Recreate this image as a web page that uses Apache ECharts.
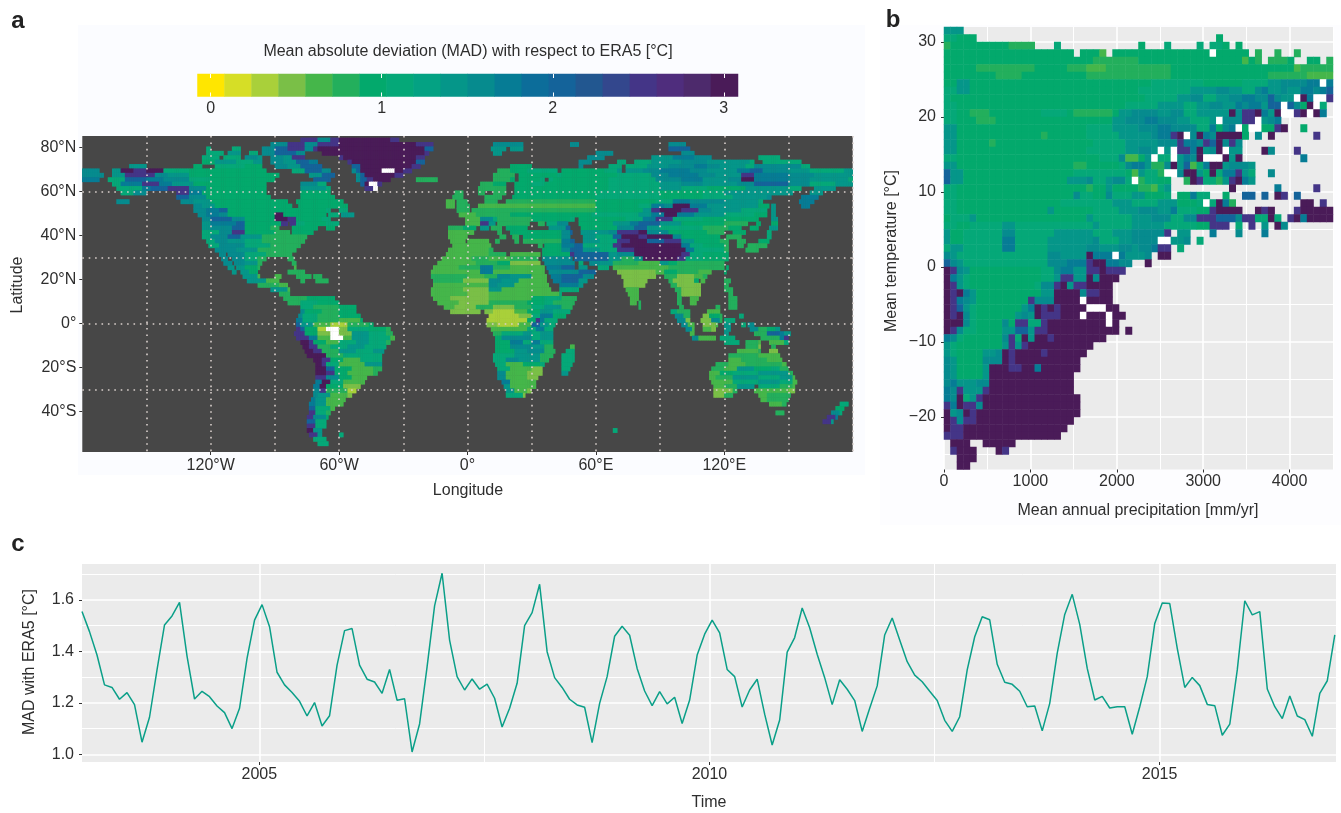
<!DOCTYPE html>
<html><head><meta charset="utf-8">
<script src="https://cdn.jsdelivr.net/npm/echarts@6/dist/echarts.min.js"></script>
<style>html,body{margin:0;padding:0;background:#fff}#c{width:1341px;height:813px}</style></head>
<body><div id="c"></div>
<script>
// ---- colour legend (binned MAD scale) ----
const legendPalette=['#ffe600','#d6de26','#a9d03a','#7abf47','#45b64a','#23af5c','#03a96c','#05a878','#04a283','#059689','#068b8e','#067c95','#0c6d9a','#14639a','#225790','#33478d','#443587','#4f2d7d','#4d2a6c','#4a1b58'];
const legendMin=-0.077, legendMax=3.083;
const legendTicks=[0,1,2,3];
// letter -> MAD value used by the two raster tables below
const madLevels={a:0.3,b:0.5,c:0.65,d:0.8,e:0.95,f:1.15,g:1.35,h:1.55,i:1.8,j:2.1,k:2.5,p:3,w:9};

// ---- panel a: land raster, row = [south edge latitude, "lonStart+level ..." spans] ----
const mapRows=[
[82,"-78k -70h -64k -60p -36k -32."],
[80,"-92h -84k -76h -70k -60p -24k -16. 12h 26. 48h 52. 94h 102."],
[78,"-122f -120. -110f -106. -96h -90j -84k -76h -72k -70p -20j -16. 11g 18. 20g 26. 94j 104."],
[76,"-122f -114. -112g -106. -102f -98. -96h -90j -80h -76. -68p -20k -18. 12g 16. 60h 68. 100h 106."],
[74,"-124f -116. -114f -106. -104h -98g -96. -92h -86g -82k -76. -60k -58p -24k -20. 56h 64. 86g 96i 106h 114. 136f 146."],
[72,"-124e -118g -108f -100g -96. -92h -86g -80j -74i -70. -56k -54p -24j -20. 52h 58. 70f 74. 78f 86g 100h 112g 132f 134. 138f 156."],
[70,"-158g -150. -128e -124. -118f -104e -96. -90h -84g -78j -68. -54j -50p -26k -22. 20e 30. 52h 54. 66f 72. 74f 84g 94h 106i 112h 118g 130f 134h 156f 160."],
[68,"-180h -172. -166g -162p -156k -150p -142f -130e -94. -82f -76j -68h -64. -54h -52j -50p -40w -34p -30k -26. 14d 20e 28f 42. 44e 64f 70g 72. 74g 82h 90i 104h 112g 126i 132j 138h 150g 160f 176g 180."],
[66,"-180h -170. -166g -160k -146h -140g -130e -88. -74g -68j -62. -52h -50j -48p -34k -30. 12d 22. 24e 42f 44e 70f 86h 94i 108h 116g 128k 134i 150h 162g 180."],
[64,"-180i -172. -168f -160j -150i -142h -130f -120e -90. -72j -64. -52h -50j -47k -44p -36. -24d -14. 12d 20e 22. 24e 34f 36. 38f 40e 66f 88h 100i 110g 122h 128p 134i 150h 160g 178f 180."],
[62,"-166f -162i -152k -144i -138g -128e -94. -78h -70f -66. -50j -48p -46w -42k -40. 6d 12e 18. 22e 30f 36e 66f 90g 100h 110g 126h 134j 150h 160f 172g 180."],
[60,"-164f -152i -148j -140k -130h -122e -94. -78g -66f -64. -48k -44w -42. 5d 18. 22e 66f 90g 100f 112e 130g 150f 156. 162g 172."],
[58,"-162f -156h -150. -136k -130i -124e -94. -78e -64. -6d -2. 5d 8. 12d 18. 22e 62f 90e 110f 120g 140g 152. 160g 166."],
[56,"-136j -130h -122e -92. -78e -62. -7d -2. 8d 12d 16. 21e 60f 90e 110f 124g 140h 142. 156i 164."],
[54,"-164h -158. -134h -128g -120e -84. -80e -58. -10c -6. -5d 0. 8d 10. 10d 14. 18d 20d 60e 88f 96i 104h 120g 136f 138. 155i 162."],
[52,"-128h -124g -118e -82. -79e -56. -10c -6. -5d 1. 5c 60e 80f 86i 92h 96p 104i 112g 136e 141. 142g 144. 156i 160."],
[50,"-128h -122i -116j -112e -66f -64. -60f -56. -5d 1. 2d 60e 82g 86k 90p 100k 108h 114g 128f 140. 142g 144."],
[48,"-126h -122i -116h -112e -90p -86e -68e -66. -65f -60. -59g -53. -4c 4d 20e 40e 58f 80g 86i 92p 98i 106g 120f 134e 140. 142g 144."],
[46,"-124h -120j -110h -104e -90p -84k -80e -68f -64. -1c 6h 12f 14d 30e 48f 50. 52e 74f 82i 88k 96f 110e 130e 136. 142g 145."],
[44,"-124g -120i -108j -104e -87k -84. -83k -80f -76e -66f -60. -1c 6k 10g 13. 14d 29. 33d 36. 37f 42h 47. 52e 60e 68g 76i 80j 90g 100e 120d 131. 135e 137. 142e 145."],
[42,"-124g -120h -110j -104e -92d -88. -82e -70. -66e -62. -9d -2e 4. 6g 10. 11d 16. 18e 28. 38g 46j 48. 53e 60e 70h 78j 84g 90f 110d 122e 128. 132e 136. 141g 145."],
[40,"-124f -116h -110k -104e -90d -83. -82e -72. -9c 3. 14d 16. 20e 44h 48j 49. 53g 60g 66h 70k 80p 84h 94e 112d 120. 124e 130. 140f 142."],
[38,"-124f -120h -112j -106g -96d -75. -9c 0. 15d 18. 21d 24. 26e 44h 48. 54g 60f 68j 72p 80k 84p 96h 100e 118. 121d 128. 140f 142."],
[36,"-122f -118h -112g -104f -96d -76. -8c -1. 0c 10. 13d 15. 22d 24. 26d 44i 48j 50. 54g 62f 70k 76p 84j 92k 100g 106e 118d 122. 126d 130. 136e 141."],
[34,"-121f -116h -104f -92d -78. -7c 11. 33d 35. 36e 44i 50j 54f 60f 68k 72p 100i 104f 110e 120d 122. 126d 129. 131d 140."],
[32,"-118h -108g -98d -80. -9c 10d 12. 35e 44h 48j 54g 62f 70k 78p 102i 106f 120d 122. 130d 136."],
[30,"-116h -113. -112h -104f -94d -82. -10c 10d 18. 20c 34. 35e 48k 50. 50j 66g 70h 78p 100k 104f 110e 122."],
[28,"-115h -112. -110h -104f -98d -94. -84d -81. -12c 2d 10c 20d 33. 35h 48i 49. 50j 66g 72d 78g 82p 98k 102f 110e 122."],
[26,"-114h -110. -109h -104g -98d -96. -82d -80. -14c 4d 14e 20b 34. 36h 50. 52f 54. 57h 62g 68d 80c 90g 94e 98d 110d 120."],
[24,"-112g -109. -108g -104e -98d -97. -81c -80. -16c -4d 6i 12d 20c 36. 37i 44j 50. 52g 56. 61f 66. 68c 92c 94d 96d 120. 121e 122."],
[22,"-110g -108. -106g -102e -98. -84d -76. -17c 6i 12c 22c 36. 38h 52j 60. 70b 88c 92e 98d 108c 114. 120e 121."],
[20,"-105g -98c -97. -90c -87. -80d -73. -72d -68. -17d 0c 8d 14h 20g 30c 37. 39i 44j 54h 59. 72b 88. 92d 96d 98b 106c 110. 110d 112."],
[18,"-103g -94c -88. -78d -76. -71d -65. -16d -2b 10h 16g 24c 37. 40i 44j 52g 56. 73b 84. 94d 96b 106e 108. 109c 111. 120d 123."],
[16,"-98d -88c -84. -16c 0c 10h 14g 22c 38. 43i 52g 54. 73b 83. 95d 98b 109. 120d 122."],
[14,"-92g -84c -83. -17c -2b 10g 16c 30c 39. 43f 52. 74c 80. 97d 100b 109. 120d 124."],
[12,"-88d -83. -17c 0b 10c 30c 43f 44. 75c 80. 98d 100. 100b 109. 122d 124."],
[10,"-86d -75e -62. -16c -8b 10c 30e 36f 44d 51. 76c 80. 98d 100. 104c 108. 122d 126."],
[8,"-84d -78f -70e -60. -14c -4b 10d 28e 36f 40d 50. 76c 79. 80d 81. 98d 100. 104c 107. 122d 126."],
[6,"-78f -72d -60e -52. -11c -6b 4d 12b 22d 30f 36g 44d 49. 80d 81. 99d 101. 116d 118. 122d 126."],
[4,"-78h -76e -68d -60e -52. -8b 6. 8b 12a 22c 28e 34g 40f 48. 95f 98d 100. 100d 104. 112c 118."],
[2,"-79h -77f -70d -60e -50. 10a 24b 30f 34i 40e 46. 97h 101d 104. 110b 113e 118d 119. 127f 129."],
[0,"-80i -77f -70d -60c -50e -49. 9a 14a 28e 32k 34i 36f 42. 98h 102b 104. 109b 114h 118d 119. 120f 125."],
[-2,"-80j -78g -72c -64a -56d -46e -44. 9b 14a 24c 30j 34g 38f 41. 100h 103c 106. 110b 116c 117. 120g 123. 128f 130. 131h 134."],
[-4,"-80k -78j -76e -70a -66w -60b -56f -46e -38d -36. 11c 14c 28f 32i 36f 40. 102h 105c 106. 110c 114b 116. 120g 123. 132h 136d 140e 144g 146."],
[-6,"-81k -78k -76e -70b -64w -60b -54g -46f -38d -35. 12d 16f 26g 30f 34g 40. 104c 106. 120g 122. 134d 140j 146i 148g 151."],
[-8,"-80k -76k -74i -70c -64w -58c -54g -46f -36c -34. 13e 16h 22h 30f 34g 40. 105h 108c 114c 116. 118f 125. 137d 146i 148k 150."],
[-10,"-78p -74k -72e -66c -60f -52g -46f -38d -36. 13e 20i 26f 30i 34f 40. 120f 127. 130d 136c 137. 141c 148f 150."],
[-12,"-77p -74k -70d -64f -56g -48f -38. 13e 20h 30g 36d 40. 48c 50. 130d 136b 137. 142d 144."],
[-14,"-76p -72k -68d -60g -52f -44g -39. 13e 22g 28h 36d 41. 46f 50. 126c 136d 137. 141b 145."],
[-16,"-75p -70p -66d -58f -48f -40. 12f 22g 34d 40. 44f 50. 122d 136c 141c 146."],
[-18,"-72p -68k -64e -58c -50f -40. 12f 18h 24g 34d 38. 44f 50. 122c 128d 140c 147."],
[-20,"-71p -68k -66f -60c -48g -40. 13f 18c 26e 34f 36. 44f 49. 116d 122c 130d 140d 147c 149."],
[-22,"-71p -66j -62e -54c -44d -40. 14f 20c 30b 35. 44f 48. 114d 120c 126g 134e 142f 146d 150."],
[-24,"-71p -66k -62e -56c -44d -42. 14h 18c 28b 35. 44g 47. 113c 118e 124f 136g 144g 150d 152."],
[-26,"-71k -66h -60e -54c -47. 14h 18c 28b 33. 113c 116d 124g 136f 146g 152c 153."],
[-28,"-71i -68p -64f -58c -48. 16i 20c 32. 114c 118c 124f 136g 146f 152c 154."],
[-30,"-72i -69p -66e -58b -50. 17g 20c 30c 32. 115c 120d 126g 134. 136f 146d 152c 153."],
[-32,"-72h -69k -66d -56a -52. 18g 22c 28b 30. 115b 124d 126. 134c 144c 150b 153."],
[-34,"-72h -70g -64c -56b -54. 18f 26b 27. 115b 120d 124. 136c 140d 151."],
[-36,"-73i -71g -66c -57. 137c 140d 150."],
[-38,"-74i -71g -66c -58. 141c 147d 149. 174f 178."],
[-40,"-74j -71f -64c -62. 172e 176."],
[-42,"-74k -71f -66d -64. 144d 148. 170h 174f 175."],
[-44,"-75k -72h -66e -65. 168k 172i 173."],
[-46,"-75j -71f -66. 166k 170g 171."],
[-48,"-75k -71f -66."],
[-50,"-75p -72g -68. 68f 70."],
[-52,"-74k -70g -68. -60f -58."],
[-54,"-72f -66."],
[-56,"-70f -65."]
];
const lonLabels={'-120':'120°W','-60':'60°W','0':'0°','60':'60°E','120':'120°E'};
const latLabels={'80':'80°N','60':'60°N','40':'40°N','20':'20°N','0':'0°','-20':'20°S','-40':'40°S'};
const lonTicks=[-120,-60,0,60,120], latTicks=[80,60,40,20,0,-20,-40];
const lonGuides=[-150,-120,-90,-60,-30,0,30,60,90,120,150,180], latGuides=[60,30,0,-30];

// ---- panel b: binned climate space, row = [lower temperature edge, "binStart+level ..." spans], bin = 75 mm/yr ----
const climateRows=[
[31,"0g 3."],
[30,"0f 2e 5. 42e 43."],
[29,"0d 1e 10d 14. 17f 18. 30e 31. 34f 35. 39f 40. 41f 43e 44. 45e 46."],
[28,"0e 20. 21e 24c 25. 26e 41w 42e 47. 48d 49. 51d 52. 54d 55."],
[27,"0e 23d 30e 46c 47e 48d 49. 50d 53e 54. 56e 58. 59d 60."],
[26,"0e 5d 14e 19d 22c 25d 35e 54c 55d 60."],
[25,"0e 8d 12e 22d 35e 50d 56c 60."],
[24,"0e 2g 4e 32f 40e 46f 50g 52h 56i 58w 59i 60."],
[23,"0f 2g 4e 30f 38g 42h 44g 46f 48h 49i 50g 52h 53g 55i 57h 58i 59j 60."],
[22,"0f 1e 31f 36g 38h 40f 42g 44h 46i 48h 50j 51h 52g 54w 55p 56i 57w 59k 60."],
[21,"0f 2e 28f 33g 37f 39g 41h 43g 45i 46h 47i 49g 50j 52w 53j 54h 55e 56p 57w 58f 59."],
[20,"0f 2e 4d 7e 15f 19e 20d 26e 27g 29h 33g 35h 37f 39g 44p 45h 46k 48p 49i 50g 51p 52w 54k 55p 56w 57p 58i 59."],
[19,"0f 2e 5d 8e 26g 28h 31i 33h 36g 38f 41g 42w 43h 46k 48w 49g 50h 51i 52."],
[18,"0g 2e 22f 26g 30h 33i 35h 39f 41i 42e 43h 44i 45w 46e 47w 49e 51k 52p 53. 55e 56."],
[17,"0g 2e 15d 16e 22f 27g 32h 33i 35k 36p 37w 38h 39p 40i 41h 42p 46e 47. 48h 49. 50p 51. 57k 58."],
[16,"0g 2e 7d 8e 23f 28g 33h 36k 37i 39h 40k 41j 42p 43h 44k 45h 46."],
[15,"0g 2e 22f 28g 30h 32g 33w 34g 35w 36k 38i 39p 40g 41h 42p 43w 44g 46. 49p 50h 51. 54k 55."],
[14,"0f 2e 24f 27h 28c 30e 31g 32w 33f 35w 36g 37i 38h 39p 40w 43p 44g 45p 46. 55i 56."],
[13,"0g 2e 20d 22e 27f 28h 29i 31g 32d 34h 35p 36g 37j 38c 39f 40i 41p 43g 44h 47g 48."],
[12,"0j 1g 3e 20f 27f 28e 29c 30g 31f 33d 34w 36h 37p 39g 40e 41p 42f 43i 45k 46g 47f 48. 50h 51."],
[11,"0j 1g 3e 19g 22h 23f 25g 26h 28f 29w 30d 31f 33e 35. 37d 38p 39k 40f 42d 43g 44k 45p 46i 47g 48."],
[10,"0f 2e 22d 23e 25g 26e 30d 32c 33f 34g 35. 44p 45. 51i 52. 57k 58."],
[9,"0f 2e 20h 21f 23e 25h 26f 29g 31e 34f 35. 36e 38i 39f 41. 43e 44. 46j 48. 49j 50. 51p 52k 53. 54j 55."],
[8,"0f 2e 18f 26g 29f 33g 36e 39f 40w 41f 42p 43i 44d 45. 55p 57. 58k 59."],
[7,"0f 2e 16g 17e 23f 27g 30h 33g 35i 36f 39e 41k 42p 45. 45p 46. 48p 49k 50p 51. 54k 55p 60."],
[6,"0e 1f 4g 5e 22g 23f 29g 32h 35f 37h 39k 42j 45h 46k 48f 50p 51f 52. 53k 54p 55i 56p 60."],
[5,"0f 2e 4f 9g 11f 23g 24f 29g 34f 39e 41k 44. 45f 46. 47k 48. 49g 50. 51p 52h 53."],
[4,"0g 1e 3f 9h 11f 17g 23f 26g 29h 34k 35. 36g 38. 41i 42. 45h 46. 49i 50."],
[3,"0g 1e 3f 9i 11f 16g 23h 24f 27g 29h 33w 35g 37h 38. 39f 40."],
[2,"0f 1g 3f 9i 11f 16g 22h 24g 27h 29g 30h 32i 33k 35. 36f 37."],
[1,"0h 1g 2f 16h 18g 22p 23i 26w 27i 28g 31h 32. 33p 35."],
[0,"0j 1h 2g 3f 16h 19i 22k 23p 25i 27h 29. 31p 32."],
[-1,"0p 1k 2h 3g 4e 15f 17h 18i 20g 22k 24p 25k 28."],
[-2,"0p 1i 2g 3f 4e 15f 17g 18k 20g 22p 23h 24p 27."],
[-3,"0p 1k 2g 3f 4e 14f 15h 17k 18p 19g 20k 22p 26."],
[-4,"0p 1k 2p 3i 4g 5e 15g 17p 21h 22k 24p 26."],
[-5,"0p 1k 2i 3h 4g 5e 13k 14h 17p 21w 22p 26."],
[-6,"0p 1k 2j 3g 4f 5e 12g 13i 14p 15k 16p 17k 18p 22w 25p 27."],
[-7,"0p 1k 2p 3h 4f 5e 11g 12h 13g 14p 15k 18p 21w 22p 25w 26p 28."],
[-8,"0p 3h 4f 5e 9h 10e 11k 13f 15k 16p 25w 26p 27."],
[-9,"0p 1k 2h 3f 5e 9g 11j 13g 14k 16p 27. 28p 29."],
[-10,"0i 1h 2f 3e 9h 10k 11f 12p 13g 14p 16k 17p 25."],
[-11,"0g 1f 2e 9g 10k 11g 12k 13p 23."],
[-12,"0g 1f 2e 6g 8h 9p 10k 11p 15k 16p 22."],
[-13,"0h 1g 2e 6h 9p 10k 11p 21."],
[-14,"0h 1g 2e 6g 7p 10k 12p 14i 15p 21."],
[-15,"0h 1g 2e 6g 7p 20."],
[-16,"0h 1i 2g 5h 7p 20."],
[-17,"0i 1h 2k 3g 6k 7p 20."],
[-18,"0i 1h 2p 3f 4g 5k 6p 21."],
[-19,"0k 1i 2p 3k 5h 6p 21."],
[-20,"0p 1g 2h 3p 4k 5p 21."],
[-21,"0p 1k 2h 3k 5p 20."],
[-22,"0p 1k 3p 19."],
[-23,"0k 3p 18."],
[-24,"1p 4. 6p 11."],
[-25,"1k 2p 5. 8p 9k 10."],
[-26,"2p 5."],
[-27,"2p 4."]
];
const precipMajor=[0,1000,2000,3000,4000], precipMinor=[500,1500,2500,3500,4500];
const tempMajor=[-20,-10,0,10,20,30], tempMinor=[-25,-15,-5,5,15,25];

// ---- panel c: monthly MAD ----
const madMonthly=[1.555,1.477,1.386,1.27,1.26,1.214,1.24,1.193,1.047,1.144,1.328,1.503,
1.538,1.591,1.382,1.215,1.245,1.224,1.188,1.162,1.10,1.179,1.373,1.522,
1.582,1.496,1.319,1.27,1.24,1.206,1.149,1.201,1.11,1.15,1.347,1.481,
1.489,1.347,1.292,1.281,1.237,1.33,1.21,1.216,1.009,1.118,1.34,1.577,
1.704,1.444,1.302,1.25,1.293,1.253,1.273,1.218,1.106,1.179,1.276,1.50,
1.551,1.661,1.399,1.298,1.26,1.214,1.192,1.183,1.045,1.198,1.302,1.459,
1.498,1.463,1.334,1.246,1.189,1.244,1.196,1.222,1.12,1.211,1.386,1.467,
1.522,1.472,1.33,1.302,1.184,1.25,1.292,1.156,1.036,1.133,1.397,1.454,
1.569,1.492,1.389,1.298,1.193,1.29,1.253,1.209,1.089,1.179,1.266,1.464,
1.53,1.444,1.36,1.308,1.282,1.245,1.209,1.132,1.089,1.146,1.328,1.457,
1.535,1.523,1.35,1.28,1.272,1.245,1.185,1.188,1.091,1.198,1.393,1.544,
1.622,1.505,1.334,1.211,1.225,1.18,1.185,1.185,1.078,1.185,1.302,1.509,
1.588,1.586,1.412,1.26,1.299,1.267,1.194,1.189,1.074,1.117,1.328,1.597,
1.542,1.555,1.254,1.185,1.139,1.227,1.149,1.135,1.07,1.237,1.286,1.464];
const firstMonth=2003.03;
const yearMajor=[2005,2010,2015], yearMinor=[2007.5,2012.5];
const madMajor=[1,1.2,1.4,1.6], madMinor=[1.1,1.3,1.5,1.7];

// ---- build ----
const font='"Liberation Sans", Arial, sans-serif', ink='#2e2e2e';
function expand(rows, origin, limit, rowIndex){
  const out=[];
  rows.forEach(([rowKey,spec])=>{
    const toks=spec.trim().split(/\s+/).map(t=>{const m=t.match(/^(-?\d+)(.)$/);return [+m[1],m[2]];});
    toks.forEach(([start,lvl],i)=>{
      if(lvl==='.')return;
      const end=i+1<toks.length?toks[i+1][0]:limit;
      for(let c=start;c<end;c++){out.push([c-origin,rowIndex(rowKey),madLevels[lvl]]);}
    });
  });
  return out;
}
const seq=(n)=>Array.from({length:n},(_,i)=>i);
const mapData=expand(mapRows,-180,180,k=>(k+58)/2);
const climateData=expand(climateRows,0,60,k=>k+27);
const binW=(legendMax-legendMin)/legendPalette.length;
const legendData=legendPalette.map((_,i)=>[i,0,legendMin+binW*(i+0.5)]);
const pieces=legendPalette.map((c,i)=>({min:legendMin+binW*i,max:legendMin+binW*(i+1),color:c}));
pieces.push({min:5,max:20,color:'#ffffff'});

const hidden=(type,gi,extra)=>Object.assign({type,gridIndex:gi,show:false},extra);
const lab=(fmt)=>({fontFamily:font,fontSize:16,color:ink,formatter:fmt});
const ticks=(vals)=>({show:true,length:3,lineStyle:{color:'#333',width:1},customValues:vals});
function guides(type,gi,min,max,vals,line,z){
  return {type:'value',gridIndex:gi,min,max,z:z||0,axisLine:{show:false,onZero:false},axisTick:{show:false,customValues:vals},
    axisLabel:{show:false,customValues:vals},splitLine:{show:true,lineStyle:line},splitArea:{show:false}};
}
function labelled(gi,min,max,vals,fmt,line,margin){
  return {type:'value',gridIndex:gi,min,max,axisLine:{show:false,onZero:false},axisTick:ticks(vals),
    axisLabel:Object.assign(lab(fmt),{customValues:vals,margin:margin,hideOverlap:false,showMinLabel:true,showMaxLabel:true}),
    splitLine:line?{show:true,lineStyle:line}:{show:false}};
}
const dotted={color:'#d9d0cc',width:1.6,type:[1.6,4.8]};
const major={color:'#ffffff',width:1.6}, minor={color:'#ffffff',width:1};
const minus=v=>String(v).replace('-','\u2212');

const A={left:82.3,top:136,width:770.4,height:316};
const AH={left:82.3,top:137.9,width:770.4,height:312.4};
const L={left:197.5,top:74,width:540.5,height:22.5};
const B={left:944,top:27,width:389,height:442.5};
const C={left:82,top:564,width:1254,height:198};

const grids=[
 Object.assign({show:true,backgroundColor:'#474747',borderWidth:0},A),
 Object.assign({},A),
 Object.assign({},AH),
 Object.assign({},L),
 Object.assign({show:true,backgroundColor:'#ebebeb',borderWidth:0},B),
 Object.assign({},B),
 Object.assign({},B),
 Object.assign({show:true,backgroundColor:'#ebebeb',borderWidth:0},C),
 Object.assign({},C),
 Object.assign({},L)
];
const lonExt=[-180,180], latExt=[-58.4,85.2];
const xAxes=[
 labelled(0,lonExt[0],lonExt[1],lonTicks,v=>lonLabels[v],null,6),
 guides('x',1,lonExt[0],lonExt[1],lonGuides,dotted,5),
 hidden('category',2,{data:seq(360)}),
 Object.assign(labelled(3,legendMin,legendMax,legendTicks,v=>String(v),null,4),{z:5,position:'bottom',axisTick:{show:true,inside:true,length:4,lineStyle:{color:'#fff',width:1},customValues:legendTicks}}),
 guides('x',4,0,4502,precipMinor,minor),
 labelled(5,0,4502,precipMajor,v=>String(v),major,4),
 hidden('category',6,{data:seq(60)}),
 guides('x',7,firstMonth,2016.96,yearMinor,minor),
 labelled(8,firstMonth,2016.96,yearMajor,v=>String(v),major,5),
 Object.assign(guides('x',9,legendMin,legendMax,legendTicks,{color:'transparent'},5),{position:'top',axisTick:{show:true,inside:true,length:4,lineStyle:{color:'#fff',width:1},customValues:legendTicks}}),
 hidden('category',3,{data:seq(20),position:'top'})
];
const yAxes=[
 labelled(0,latExt[0],latExt[1],latTicks,v=>latLabels[v],null,6),
 guides('y',1,latExt[0],latExt[1],latGuides,dotted,5),
 hidden('category',2,{data:seq(71)}),
 hidden('category',3,{data:[0]}),
 guides('y',4,-27,32,tempMinor,minor),
 labelled(5,-27,32,tempMajor,minus,major,8),
 hidden('category',6,{data:seq(59)}),
 guides('y',7,0.97,1.74,madMinor,minor),
 labelled(8,0.97,1.74,madMajor,v=>v.toFixed(1),major,8),
 hidden('value',9,{min:0,max:1})
];

const txt=(x,y,s,o)=>({type:'text',x,y,z:50,style:Object.assign({text:s,fontFamily:font,fontSize:16,fill:ink,align:'center',verticalAlign:'middle'},o||{})});
const vtxt=(x,y,s)=>({type:'text',x,y,rotation:Math.PI/2,z:50,style:{text:s,fontFamily:font,fontSize:16,fill:ink,align:'center',verticalAlign:'middle'}});

const chart=echarts.init(document.getElementById('c'),null,{renderer:'canvas'});
chart.setOption({
 animation:false,backgroundColor:'#ffffff',
 grid:grids,xAxis:xAxes,yAxis:yAxes,
 visualMap:{type:'piecewise',show:false,dimension:2,seriesIndex:[0,1,2],pieces},
 series:[
  {type:'heatmap',xAxisIndex:2,yAxisIndex:2,data:mapData,progressive:0,silent:true,z:2},
  {type:'heatmap',xAxisIndex:10,yAxisIndex:3,data:legendData,progressive:0,silent:true,z:2},
  {type:'heatmap',xAxisIndex:6,yAxisIndex:6,data:climateData,progressive:0,silent:true,z:2},
  {type:'line',xAxisIndex:8,yAxisIndex:8,data:madMonthly.map((v,i)=>[firstMonth+i/12,v]),symbol:'none',silent:true,z:3,
   lineStyle:{color:'#0a9f88',width:1.5}}
 ],
 graphic:[
  {type:'rect',z:-10,shape:{x:78,y:25,width:787,height:450},style:{fill:'#fbfcff'},silent:true},
  {type:'rect',z:-10,shape:{x:880,y:25,width:461,height:500},style:{fill:'#fdfdff'},silent:true},
  txt(18,21,'a',{fontSize:24,fontWeight:'bold',fill:'#222'}),
  txt(893,20,'b',{fontSize:24,fontWeight:'bold',fill:'#222'}),
  txt(18,544,'c',{fontSize:24,fontWeight:'bold',fill:'#222'}),
  txt(468,52,'Mean absolute deviation (MAD) with respect to ERA5 [°C]'),
  txt(468,491,'Longitude'),
  vtxt(18,285,'Latitude'),
  vtxt(892,251,'Mean temperature [°C]'),
  txt(1138,511,'Mean annual precipitation [mm/yr]'),
  vtxt(30,662,'MAD with ERA5 [°C]'),
  txt(709,803,'Time')
 ]
});
</script></body></html>
